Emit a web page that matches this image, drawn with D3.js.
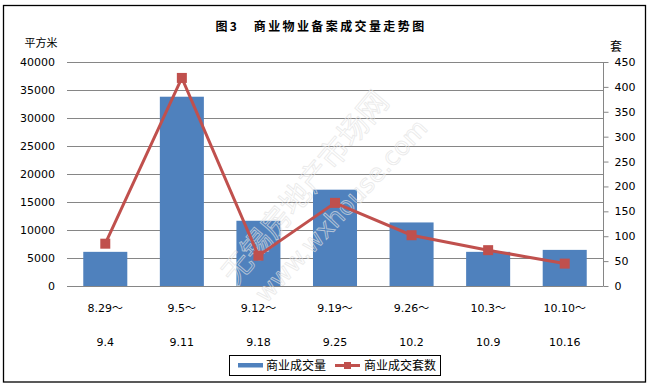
<!DOCTYPE html>
<html>
<head>
<meta charset="utf-8">
<script src="https://cdn.jsdelivr.net/npm/d3@7/dist/d3.min.js"></script>
<style>
    html, body { margin: 0; padding: 0; background: #fff; }
    svg { display: block; font-family: "DejaVu Sans", "Noto Sans CJK SC", sans-serif; }
    .cjk { font-family: "Noto Sans CJK SC", sans-serif; }
</style>
</head>
<body>
<svg id="chart" width="649" height="386"></svg>
<script>

const weekStart = ['8.29～', '9.5～', '9.12～', '9.19～', '9.26～', '10.3～', '10.10～'];
const weekEnd = ['9.4', '9.11', '9.18', '9.25', '10.2', '10.9', '10.16'];
const tradeArea = [6100, 33800, 11650, 17200, 11350, 6100, 6450];
const tradeUnits = [85, 418, 61, 167, 102, 72, 45];
const areaTicks = [0, 5000, 10000, 15000, 20000, 25000, 30000, 35000, 40000];
const unitTicks = [0, 50, 100, 150, 200, 250, 300, 350, 400, 450];

(function () {

    const svg = d3.select('#chart');
    const barColor = '#4f81bd';
    const lineColor = '#c0504d';
    const gridColor = '#868686';

    const plot = { left: 67, right: 603, top: 62, bottom: 286 };

    svg.append('rect')
        .attr('x', 3.5).attr('y', 5.5)
        .attr('width', 642).attr('height', 376.5)
        .attr('fill', '#fff')
        .attr('stroke', '#000')
        .attr('stroke-width', 1.3);

    const x = d3.scaleBand()
        .domain(weekEnd)
        .range([plot.left, plot.right])
        .paddingInner(0.425)
        .paddingOuter(0.2125);

    const yArea = d3.scaleLinear().domain([0, 40000]).range([plot.bottom, plot.top]);
    const yUnits = d3.scaleLinear().domain([0, 450]).range([plot.bottom, plot.top]);

    // gridlines
    svg.append('g')
        .selectAll('line')
        .data(areaTicks)
        .join('line')
        .attr('x1', plot.left).attr('x2', plot.right)
        .attr('y1', d => Math.round(yArea(d)) + 0.5)
        .attr('y2', d => Math.round(yArea(d)) + 0.5)
        .attr('stroke', gridColor);

    // left axis labels
    const leftAxis = svg.append('g')
        .attr('transform', `translate(${plot.left},0)`)
        .call(d3.axisLeft(yArea).tickValues(areaTicks).tickFormat(d3.format('d')).tickSize(0).tickPadding(12));
    leftAxis.select('.domain').remove();
    leftAxis.selectAll('text').attr('font-size', 11).attr('fill', '#000').attr('font-family', '"DejaVu Sans", sans-serif');

    // right axis
    const rightAxis = svg.append('g')
        .attr('transform', `translate(${plot.right + 0.5},0)`)
        .call(d3.axisRight(yUnits).tickValues(unitTicks).tickSize(5).tickPadding(6));
    rightAxis.select('.domain').attr('stroke', gridColor).attr('d', `M0,${plot.top}V${plot.bottom + 0.5}`);
    rightAxis.selectAll('line').attr('stroke', gridColor);
    rightAxis.selectAll('text').attr('font-size', 11).attr('fill', '#000').attr('font-family', '"DejaVu Sans", sans-serif');

    // bars
    svg.append('g')
        .selectAll('rect')
        .data(tradeArea)
        .join('rect')
        .attr('x', (d, i) => x(weekEnd[i]))
        .attr('y', d => yArea(d))
        .attr('width', x.bandwidth())
        .attr('height', d => plot.bottom - yArea(d))
        .attr('fill', barColor);

    // watermark (faint outline text)
    const mark = svg.append('g')
        .attr('fill', 'none')
        .attr('stroke', '#e2e2e2')
        .attr('stroke-opacity', 0.7)
        .attr('stroke-width', 0.9);
    mark.append('text')
        .attr('class', 'cjk')
        .attr('transform', 'translate(236,286) rotate(-50)')
        .attr('font-size', 30)
        .text('无锡房地产市场网');
    mark.append('text')
        .attr('transform', 'translate(266,304) rotate(-47)')
        .attr('font-size', 25)
        .text('www.wxhouse.com');

    // line
    const cx = (i) => x(weekEnd[i]) + x.bandwidth() / 2;
    const unitsLine = d3.line()
        .x((d, i) => cx(i))
        .y(d => yUnits(d));

    svg.append('path')
        .datum(tradeUnits)
        .attr('d', unitsLine)
        .attr('fill', 'none')
        .attr('stroke', lineColor)
        .attr('stroke-width', 3);

    svg.append('g')
        .selectAll('rect')
        .data(tradeUnits)
        .join('rect')
        .attr('x', (d, i) => cx(i) - 5)
        .attr('y', d => yUnits(d) - 5)
        .attr('width', 10).attr('height', 10)
        .attr('fill', lineColor);

    // category labels, two lines
    const labels = svg.append('g').attr('font-size', 11).attr('text-anchor', 'middle').attr('fill', '#000');
    labels.selectAll('.start')
        .data(weekStart)
        .join('text')
        .attr('class', 'start')
        .attr('x', (d, i) => cx(i))
        .attr('y', 312)
        .text(d => d);
    labels.selectAll('.end')
        .data(weekEnd)
        .join('text')
        .attr('class', 'end')
        .attr('x', (d, i) => cx(i))
        .attr('y', 345.5)
        .text(d => d);

    // titles
    svg.append('text')
        .attr('class', 'cjk')
        .attr('x', 321).attr('y', 31)
        .attr('text-anchor', 'middle')
        .attr('font-size', 12).attr('font-weight', 'bold')
        .attr('letter-spacing', 2.4)
        .text('图3　商业物业备案成交量走势图');

    svg.append('text')
        .attr('class', 'cjk')
        .attr('x', 41).attr('y', 46.5)
        .attr('text-anchor', 'middle')
        .attr('font-size', 11)
        .text('平方米');

    svg.append('text')
        .attr('class', 'cjk')
        .attr('x', 616).attr('y', 50.5)
        .attr('text-anchor', 'middle')
        .attr('font-size', 12)
        .text('套');

    // legend
    const legend = svg.append('g');
    legend.append('rect')
        .attr('x', 229.5).attr('y', 355.5)
        .attr('width', 211).attr('height', 20)
        .attr('fill', '#fff').attr('stroke', '#000');
    legend.append('rect')
        .attr('x', 238).attr('y', 363).attr('width', 25).attr('height', 4.5)
        .attr('fill', barColor);
    legend.append('text')
        .attr('class', 'cjk')
        .attr('x', 266).attr('y', 369.5)
        .attr('font-size', 12)
        .text('商业成交量');
    legend.append('line')
        .attr('x1', 335).attr('x2', 360).attr('y1', 365.5).attr('y2', 365.5)
        .attr('stroke', lineColor).attr('stroke-width', 3);
    legend.append('rect')
        .attr('x', 344).attr('y', 362).attr('width', 7).attr('height', 7)
        .attr('fill', lineColor);
    legend.append('text')
        .attr('class', 'cjk')
        .attr('x', 364).attr('y', 369.5)
        .attr('font-size', 12)
        .text('商业成交套数');

})();
</script>
</body>
</html>
